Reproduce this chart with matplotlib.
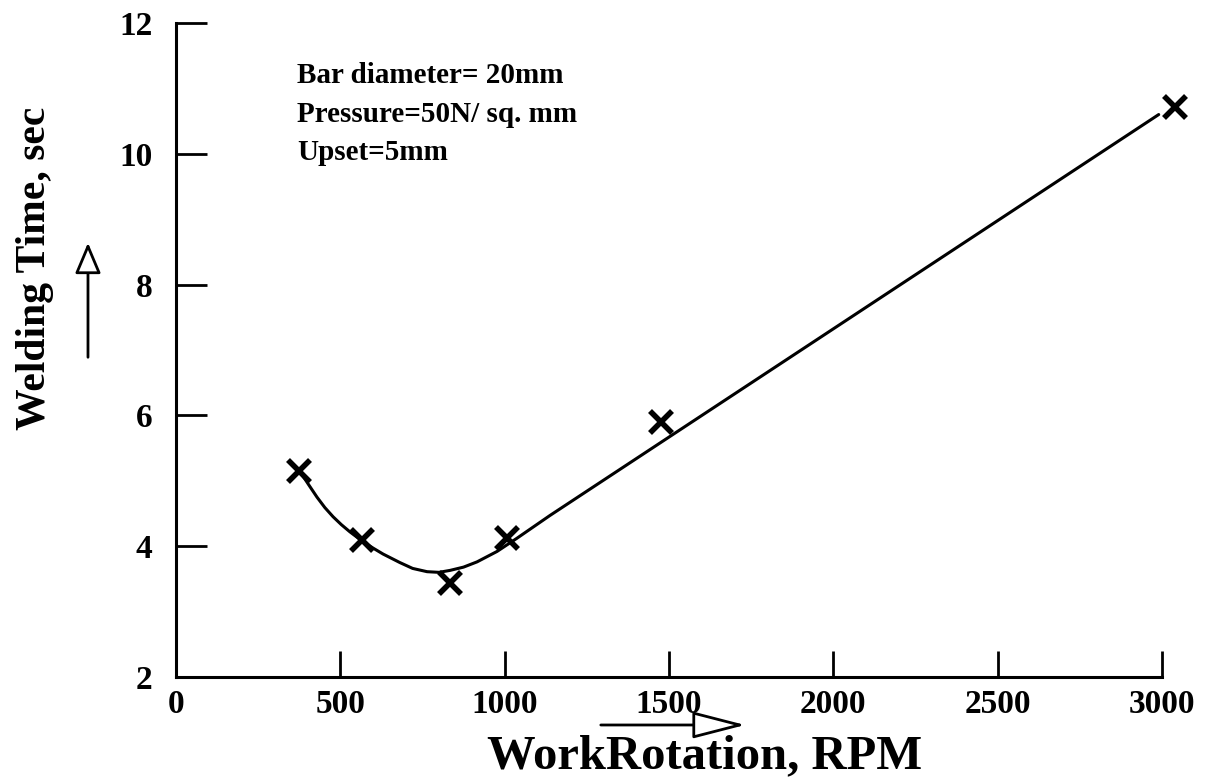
import matplotlib
matplotlib.use("Agg")
import matplotlib.pyplot as plt

# measured points (RPM, sec)
rpm = [374, 566, 834, 1007, 1475, 3040]
weld_time = [5.15, 4.10, 3.44, 4.13, 5.90, 10.71]

# hand-drawn trend curve
curve_rpm = [380, 405, 429, 453, 478, 503, 529, 566, 600, 630, 681, 720, 764,
             800, 834, 875, 916, 977, 1037, 1138, 2990]
curve_time = [5.12, 4.93, 4.75, 4.59, 4.45, 4.33, 4.22, 4.08, 3.97, 3.88, 3.75,
              3.66, 3.61, 3.60, 3.63, 3.68, 3.76, 3.92, 4.12, 4.47, 10.6]

x_ticks = [500, 1000, 1500, 2000, 2500, 3000]
y_ticks = [4, 6, 8, 10, 12]

notes = "Bar diameter= 20mm\nPressure=50N/ sq. mm\nUpset=5mm"

plt.rcParams['font.family'] = ['Liberation Serif', 'DejaVu Serif']
plt.rcParams['font.weight'] = 'bold'

fig = plt.figure(figsize=(12.17, 7.82), dpi=100)
ax = fig.add_axes([0.1446, 0.1343, 0.8102, 0.8363])

ax.plot(curve_rpm, curve_time, color='black', lw=2.2, solid_capstyle='round',
        solid_joinstyle='round')
ax.plot(rpm, weld_time, ls='none', marker='x', ms=16, mew=4, color='black',
        clip_on=False)

ax.set_xlim(0, 3000)
ax.set_ylim(2, 12)

for side in ['top', 'right']:
    ax.spines[side].set_visible(False)
for side in ['left', 'bottom']:
    ax.spines[side].set_linewidth(2.2)

ax.set_xticks([0] + x_ticks)
ax.set_xticklabels(['0'] + [str(t) for t in x_ticks])
ax.set_yticks([2] + y_ticks)
ax.set_yticklabels(['2'] + [str(t) for t in y_ticks])
ax.tick_params(axis='x', direction='in', length=19, width=2, pad=9, labelsize=24)
ax.tick_params(axis='y', direction='in', length=22, width=2, pad=17, labelsize=24)

ax.set_xlabel("WorkRotation, RPM", fontsize=35, fontweight='bold')
ax.xaxis.set_label_coords(0.5365, -0.122)
ax.xaxis.label.set_va('center')
ax.set_ylabel("Welding Time, sec", fontsize=30, fontweight='bold')
ax.yaxis.set_label_coords(-0.143, 0.625)
ax.yaxis.label.set_va('center')

ax.text(0.1227, 0.94, notes, transform=ax.transAxes, fontsize=21,
        fontweight='bold', va='top', ha='left', linespacing=1.55)

# direction arrows beside the axis titles
arrow_style = dict(arrowstyle='-|>,head_length=1.9,head_width=0.8',
                   fc='white', ec='black', lw=2, mutation_scale=10)
ax.annotate('', xy=(0.0723, 0.6931), xytext=(0.0723, 0.5396),
            xycoords='figure fraction', textcoords='figure fraction',
            arrowprops=arrow_style)
arrow_style_x = dict(arrowstyle='-|>,head_length=3.3,head_width=0.85',
                     fc='white', ec='black', lw=2, mutation_scale=10)
ax.annotate('', xy=(0.6146, 0.0729), xytext=(0.4914, 0.0729),
            xycoords='figure fraction', textcoords='figure fraction',
            arrowprops=arrow_style_x)

fig.savefig("out.png", dpi=100)
